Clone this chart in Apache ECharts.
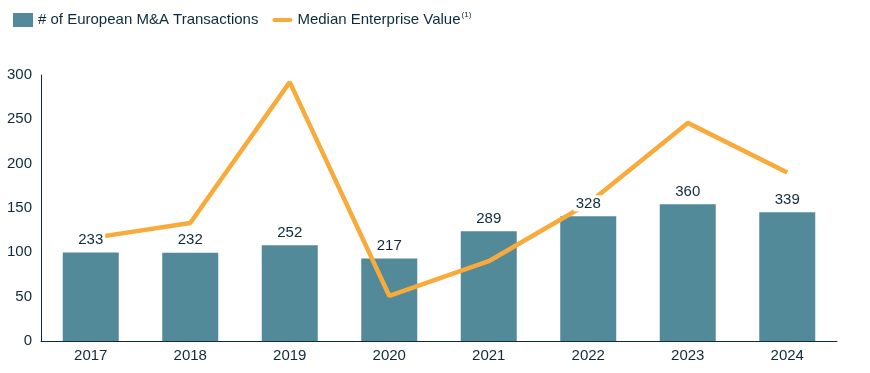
<!DOCTYPE html>
<html><head><meta charset="utf-8">
<script src="https://cdn.jsdelivr.net/npm/echarts@6/dist/echarts.min.js"></script>
<style>html,body{margin:0;padding:0;background:#fff}#c{width:870px;height:373px}</style>
</head><body><div id="c"></div>
<script>
const years = ['2017','2018','2019','2020','2021','2022','2023','2024'];
const transactions = [233, 232, 252, 217, 289, 328, 360, 339];
const medianEV = [116, 133, 292, 51, 90, 155, 246, 190];
const yTicks = [0, 50, 100, 150, 200, 250, 300];

const textColor = '#0E2A3C';
const barColor = '#528A9A';
const lineColor = '#F8AA3A';
const font = 'Liberation Sans, Arial, sans-serif';

const chart = echarts.init(document.getElementById('c'));
chart.setOption({
  animation: false,
  textStyle: {fontFamily: font},
  legend: {
    left: 8, top: 6,
    itemGap: 14,
    itemWidth: 20, itemHeight: 14,
    data: [
      {name: '# of European M&A Transactions', icon: 'rect'},
      {name: 'Median Enterprise Value', icon: 'path://M2,0 L18,0 A2,2 0 0 1 18,4 L2,4 A2,2 0 0 1 2,0 Z',
       itemStyle: {color: lineColor, borderWidth: 0}}
    ],
    textStyle: {
      fontSize: 15, color: textColor, fontFamily: font,
      rich: {
        t: {fontSize: 15, color: textColor, fontFamily: font},
        sup: {fontSize: 8, color: textColor, fontFamily: font, verticalAlign: 'top', padding: [0, 0, 10, 1]}
      }
    },
    formatter: function (n) {
      return n === 'Median Enterprise Value' ? '{t|' + n + '}{sup|(1)}' : n;
    }
  },
  grid: {left: 41, right: 33, top: 75, bottom: 32, containLabel: false},
  xAxis: {
    type: 'category', data: years,
    axisLine: {lineStyle: {color: textColor, width: 1}},
    axisTick: {show: false},
    axisLabel: {fontSize: 15, color: textColor, margin: 7}
  },
  yAxis: [
    {
      type: 'value', min: yTicks[0], max: yTicks[yTicks.length - 1], interval: 50,
      axisLine: {show: true, lineStyle: {color: textColor, width: 1}},
      axisTick: {show: false},
      splitLine: {show: false},
      axisLabel: {fontSize: 15, color: textColor, margin: 9}
    },
    {
      type: 'value', min: 0, max: 700, show: false,
      splitLine: {show: false}
    }
  ],
  series: [
    {
      name: '# of European M&A Transactions', type: 'bar', yAxisIndex: 1,
      data: transactions, barWidth: 56, z: 1,
      itemStyle: {color: barColor}
    },
    {
      name: 'Median Enterprise Value', type: 'line', yAxisIndex: 0,
      data: medianEV, symbol: 'none', z: 2,
      lineStyle: {color: lineColor, width: 4.5},
      itemStyle: {color: lineColor}
    },
    {
      name: 'labels', type: 'scatter', yAxisIndex: 1,
      data: transactions, symbolSize: 0, z: 5, silent: true,
      itemStyle: {opacity: 1},
      label: {
        show: true, position: 'top', distance: 5,
        fontSize: 15, color: textColor, backgroundColor: '#fff',
        padding: [1, 2, 0, 2]
      }
    }
  ]
});
</script></body></html>
